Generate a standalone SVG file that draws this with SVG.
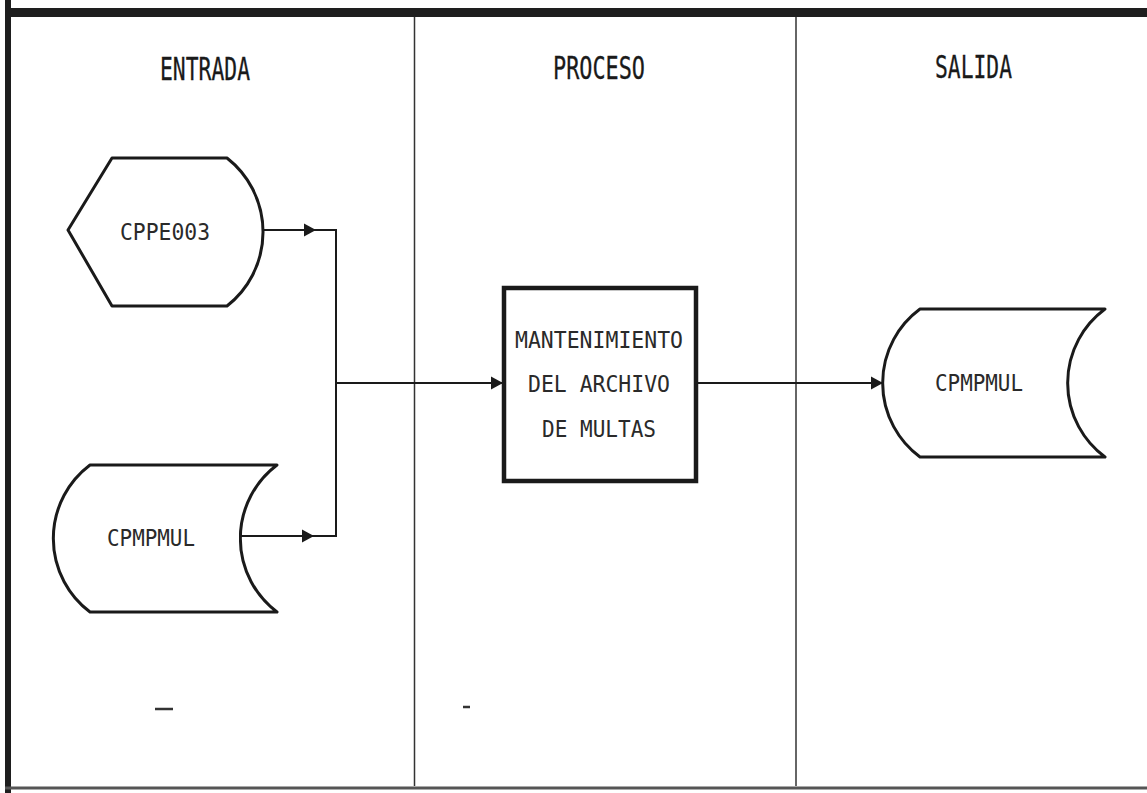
<svg xmlns="http://www.w3.org/2000/svg" width="1147" height="793" viewBox="0 0 1147 793">
<style>
.frame{fill:#1e1e1e}
.lane{stroke:#333;stroke-width:1.5;fill:none}
.shape{fill:#fff;stroke:#1a1a1a;stroke-width:3;stroke-linejoin:round}
.box{fill:#fff;stroke:#1a1a1a;stroke-width:4.5}
.conn{fill:none;stroke:#1a1a1a;stroke-width:2}
.hdr{font-family:"DejaVu Sans Mono","Liberation Mono",monospace;font-size:32px;fill:#1a1a1a;text-anchor:middle;stroke:#1a1a1a;stroke-width:0.3}
.lbl{font-family:"DejaVu Sans Mono","Liberation Mono",monospace;font-size:23px;fill:#2a2a2a;text-anchor:middle}
</style>
<defs>
<marker id="arr" markerUnits="userSpaceOnUse" markerWidth="16" markerHeight="16" refX="13" refY="8" orient="auto">
<path d="M1,1.5 L13,8 L1,14.5 Z" fill="#1a1a1a"/>
</marker>
</defs>
<rect width="1147" height="793" fill="#fff"/>
<g id="frame">
<rect class="frame" x="5" y="8" width="1142" height="9"/>
<rect class="frame" x="5" y="0" width="6" height="793"/>
<line x1="5" y1="788" x2="1147" y2="788" stroke="#555" stroke-width="3"/>
<line class="lane" x1="414.5" y1="17" x2="414.5" y2="786"/>
<line class="lane" x1="796" y1="17" x2="796" y2="786"/>
</g>
<g id="headers">
<text class="hdr" x="205" y="80" textLength="90" lengthAdjust="spacingAndGlyphs">ENTRADA</text>
<text class="hdr" x="599" y="79" textLength="92" lengthAdjust="spacingAndGlyphs">PROCESO</text>
<text class="hdr" x="973.5" y="78" textLength="77" lengthAdjust="spacingAndGlyphs">SALIDA</text>
</g>
<g id="connectors">
<path class="conn" d="M263,230 H316" marker-end="url(#arr)"/>
<path class="conn" d="M314,230 H336 V536 H312"/>
<path class="conn" d="M238,536 H314" marker-end="url(#arr)"/>
<path class="conn" d="M336,383 H503" marker-end="url(#arr)"/>
<path class="conn" d="M697,383 H883" marker-end="url(#arr)"/>
</g>
<g id="node-cppe003">
<path class="shape" d="M68,230 L112,158 L227,158 A94 94 0 0 1 227,306 L112,306 Z"/>
<text class="lbl" x="165" y="240" textLength="90" lengthAdjust="spacingAndGlyphs">CPPE003</text>
</g>
<g id="node-cpmpmul-in">
<path class="shape" d="M90,465 H277 A92 92 0 0 0 277,612 H90 A92 92 0 0 1 90,465 Z"/>
<line x1="236" y1="528" x2="236" y2="545" stroke="#fff" stroke-width="6"/>
<text class="lbl" x="151" y="546" textLength="88" lengthAdjust="spacingAndGlyphs">CPMPMUL</text>
</g>
<g id="node-proceso">
<rect class="box" x="504" y="288" width="192" height="193"/>
<text class="lbl" x="599" y="348" textLength="168" lengthAdjust="spacingAndGlyphs">MANTENIMIENTO</text>
<text class="lbl" x="599" y="392" textLength="142" lengthAdjust="spacingAndGlyphs">DEL ARCHIVO</text>
<text class="lbl" x="599" y="437" textLength="114" lengthAdjust="spacingAndGlyphs">DE MULTAS</text>
</g>
<g id="node-cpmpmul-out">
<path class="shape" d="M920,309 H1105 A92 92 0 0 0 1105,457 H920 A92 92 0 0 1 920,309 Z"/>
<text class="lbl" x="979" y="391" textLength="88" lengthAdjust="spacingAndGlyphs">CPMPMUL</text>
</g>
<g id="marks">
<line x1="155" y1="709" x2="173" y2="709" stroke="#333" stroke-width="2.5"/>
<line x1="463" y1="707" x2="470" y2="707" stroke="#333" stroke-width="2.5"/>
</g>
</svg>
